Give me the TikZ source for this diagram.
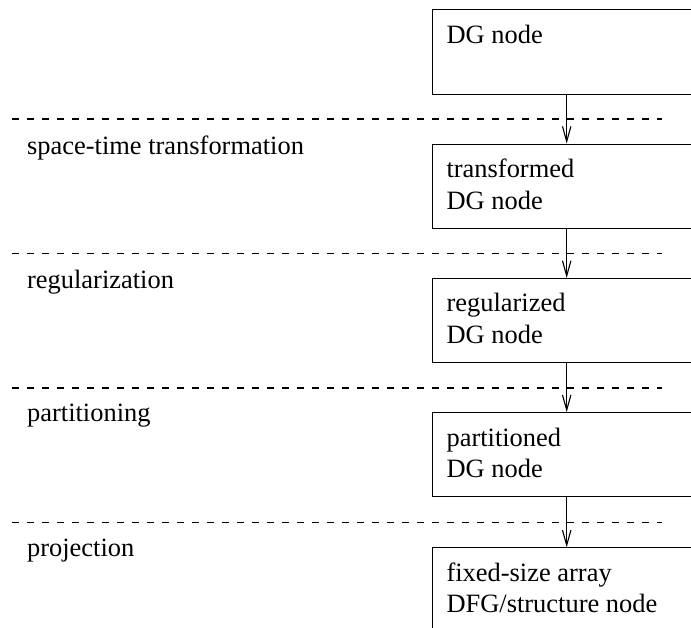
\documentclass[tikz,border=0pt]{standalone}
\usepackage{fontspec}
\setmainfont{Liberation Serif}
\usetikzlibrary{arrows.meta,calc}

% two-line box text whose baseline is that of its first line
\newcommand{\boxlines}[1]{\begin{tabular}[t]{@{}l@{}}#1\end{tabular}}

\begin{document}
\begin{tikzpicture}[
    x=0.45pt, y=-0.45pt,
    font=\fontsize{11.9}{14.2}\selectfont,
    stage/.style={draw, line width=0.5pt, rectangle, inner sep=0pt,
                  minimum width=121pt, minimum height=37.9pt},
    boxtext/.style={anchor=base west, inner sep=0pt},
    steplabel/.style={anchor=base west, inner sep=0pt},
    phase/.style={line width=0.5pt, dash pattern=on 3pt off 3.75pt},
    flow/.style={line width=0.5pt, -{Straight Barb[length=6.8pt,width=3.8pt,line width=0.5pt]}}
  ]
  \useasboundingbox (0,0) rectangle (691,628);
  \clip (0,0) rectangle (691,628);

  % processing stages, one box per level
  \node[stage] (b1) at (566.7,52)    {};
  \node[stage] (b2) at (566.7,186.2) {};
  \node[stage] (b3) at (566.7,320.6) {};
  \node[stage] (b4) at (566.7,454.8) {};
  \node[stage] (b5) at (566.7,590)   {};

  % box contents
  \node[boxtext] (t1) at ($(b1.north west)+(14.4,34)$) {DG node};
  \node[boxtext] (t2) at ($(b2.north west)+(14.4,34)$) {\boxlines{transformed\\DG node}};
  \node[boxtext] (t3) at ($(b3.north west)+(14.4,34)$) {\boxlines{regularized\\DG node}};
  \node[boxtext] (t4) at ($(b4.north west)+(14.4,34)$) {\boxlines{partitioned\\DG node}};
  \node[boxtext] (t5) at ($(b5.north west)+(14.4,33.7)$) {\boxlines{fixed-size array\\DFG/structure node}};

  % separators between the design steps
  \coordinate (d1l) at (12.3,119);   \coordinate (d1r) at (662,119);
  \coordinate (d2l) at (12.3,253.7); \coordinate (d2r) at (662,253.7);
  \coordinate (d3l) at (12.3,388);   \coordinate (d3r) at (662,388);
  \coordinate (d4l) at (12.3,522.3); \coordinate (d4r) at (662,522.3);
  \draw[phase] (d1l) -- (d1r);
  \draw[phase] (d2l) -- (d2r);
  \draw[phase] (d3l) -- (d3r);
  \draw[phase] (d4l) -- (d4r);

  % step names
  \node[steplabel] (s1) at (26.7,154.5) {space-time transformation};
  \node[steplabel] (s2) at (26.7,288.5) {regularization};
  \node[steplabel] (s3) at (26.7,422)   {partitioning};
  \node[steplabel] (s4) at (26.7,556.5) {projection};

  % flow from stage to stage
  \draw[flow] (b1.south) -- (b2.north);
  \draw[flow] (b2.south) -- (b3.north);
  \draw[flow] (b3.south) -- (b4.north);
  \draw[flow] (b4.south) -- (b5.north);
\end{tikzpicture}
\end{document}
